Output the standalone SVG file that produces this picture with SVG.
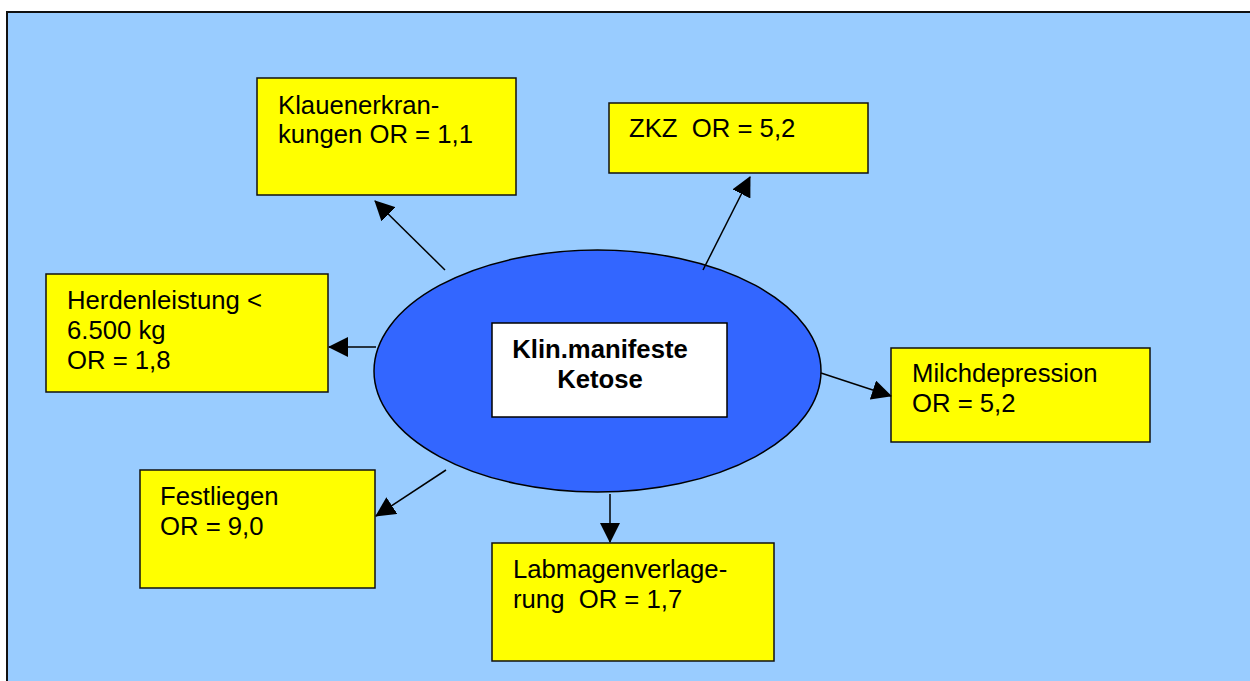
<svg xmlns="http://www.w3.org/2000/svg" width="1250" height="681" viewBox="0 0 1250 681">
  <defs>
    <marker id="arrow" markerUnits="userSpaceOnUse" markerWidth="20" markerHeight="20" refX="19" refY="10" orient="auto">
      <path d="M0,0 L20,10 L0,20 z" fill="#000"/>
    </marker>
    <style>
      .box { fill: #FFFF00; stroke: #111; stroke-width: 1.5; }
      .lbl { font-family: "Liberation Sans", Arial, sans-serif; font-size: 25.7px; fill: #000; }
      .title { font-family: "Liberation Sans", Arial, sans-serif; font-size: 25.7px; font-weight: bold; fill: #000; }
      .conn { stroke: #000; stroke-width: 1.5; fill: none; marker-end: url(#arrow); }
    </style>
  </defs>

  <!-- page background and frame -->
  <rect x="0" y="0" width="1250" height="681" fill="#FFFFFF"/>
  <rect x="7" y="12" width="1260" height="700" fill="#99CCFF" stroke="#111" stroke-width="2"/>

  <!-- central node -->
  <g id="ketose">
    <ellipse cx="597.5" cy="371" rx="223.5" ry="121" fill="#3366FF" stroke="#000" stroke-width="1.5"/>
    <rect x="492" y="323" width="235" height="94" fill="#FFFFFF" stroke="#000" stroke-width="1.5"/>
    <text class="title" x="600" y="358" text-anchor="middle">Klin.manifeste</text>
    <text class="title" x="600" y="388" text-anchor="middle">Ketose</text>
  </g>

  <g id="klauen">
    <rect class="box" x="257" y="78" width="259" height="117"/>
    <text class="lbl" x="278" y="114">Klauenerkran-</text>
    <text class="lbl" x="278" y="143">kungen OR = 1,1</text>
  </g>

  <g id="zkz">
    <rect class="box" x="609" y="103" width="259" height="70"/>
    <text class="lbl" x="629" y="137" xml:space="preserve">ZKZ  OR = 5,2</text>
  </g>

  <g id="herden">
    <rect class="box" x="46" y="274" width="282" height="118"/>
    <text class="lbl" x="67" y="309">Herdenleistung &lt;</text>
    <text class="lbl" x="67" y="339">6.500 kg</text>
    <text class="lbl" x="67" y="369">OR = 1,8</text>
  </g>

  <g id="milch">
    <rect class="box" x="891" y="348" width="259" height="94"/>
    <text class="lbl" x="912" y="382">Milchdepression</text>
    <text class="lbl" x="912" y="412">OR = 5,2</text>
  </g>

  <g id="festliegen">
    <rect class="box" x="140" y="470" width="235" height="118"/>
    <text class="lbl" x="160" y="505">Festliegen</text>
    <text class="lbl" x="160" y="535">OR = 9,0</text>
  </g>

  <g id="labmagen">
    <rect class="box" x="492" y="543" width="282" height="118"/>
    <text class="lbl" x="513" y="578">Labmagenverlage-</text>
    <text class="lbl" x="513" y="608" xml:space="preserve">rung  OR = 1,7</text>
  </g>

  <!-- connectors -->
  <g id="connectors">
    <line class="conn" x1="445" y1="270" x2="375" y2="201"/>
    <line class="conn" x1="703" y1="270" x2="750" y2="177"/>
    <line class="conn" x1="376" y1="347" x2="329" y2="347"/>
    <line class="conn" x1="821" y1="373" x2="891" y2="396"/>
    <line class="conn" x1="446" y1="470" x2="376" y2="516"/>
    <line class="conn" x1="610" y1="494" x2="610" y2="542"/>
  </g>
</svg>
